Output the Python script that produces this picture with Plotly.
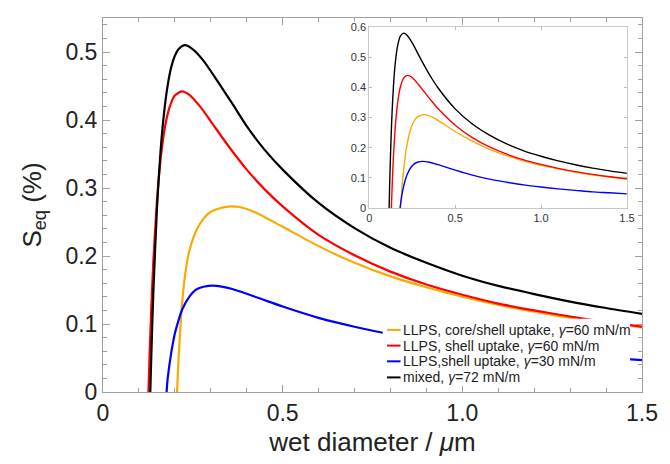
import plotly.graph_objects as go

# ---------------- main panel data (wet diameter in um, S_eq in %) ----------------
x_black = [0.1316, 0.135, 0.14, 0.15, 0.16, 0.17, 0.18, 0.19, 0.20, 0.21, 0.228, 0.25, 0.28, 0.32,
           0.36, 0.40, 0.45, 0.50, 0.60, 0.70, 0.80, 0.90, 1.0, 1.1, 1.2, 1.3, 1.4, 1.5]
y_black = [0.0, 0.064, 0.145, 0.268, 0.353, 0.411, 0.451, 0.478, 0.4945, 0.504, 0.510, 0.504, 0.487, 0.456,
           0.424, 0.391, 0.356, 0.327, 0.278, 0.241, 0.212, 0.190, 0.171, 0.156, 0.144, 0.133, 0.1235, 0.115]

x_red = [0.1264, 0.13, 0.135, 0.14, 0.15, 0.16, 0.17, 0.18, 0.19, 0.20, 0.219, 0.24, 0.27, 0.30,
         0.35, 0.40, 0.45, 0.50, 0.60, 0.70, 0.80, 0.90, 1.0, 1.1, 1.2, 1.3, 1.4, 1.5]
y_red = [0.0, 0.060, 0.132, 0.191, 0.280, 0.341, 0.382, 0.409, 0.426, 0.436, 0.442, 0.437, 0.420, 0.398,
         0.361, 0.327, 0.298, 0.273, 0.231, 0.201, 0.177, 0.158, 0.143, 0.130, 0.120, 0.111, 0.103, 0.096]

x_orange = [0.206, 0.21, 0.22, 0.23, 0.24, 0.26, 0.28, 0.30, 0.33, 0.356, 0.38, 0.42, 0.50,
            0.60, 0.70, 0.80, 0.90, 1.0, 1.1, 1.2, 1.3, 1.4, 1.5]
y_orange = [0.0, 0.045, 0.130, 0.178, 0.207, 0.238, 0.255, 0.265, 0.271, 0.273, 0.272, 0.265, 0.243,
            0.2145, 0.190, 0.170, 0.154, 0.140, 0.128, 0.118, 0.109, 0.102, 0.095]

x_blue = [0.177, 0.18, 0.19, 0.20, 0.21, 0.22, 0.24, 0.26, 0.28, 0.306, 0.33, 0.36, 0.40, 0.45,
          0.50, 0.60, 0.70, 0.80, 0.90, 1.0, 1.1, 1.2, 1.3, 1.4, 1.5]
y_blue = [0.0, 0.020, 0.058, 0.086, 0.105, 0.121, 0.140, 0.151, 0.1548, 0.1565, 0.155, 0.1514, 0.1445, 0.135,
          0.1257, 0.109, 0.096, 0.085, 0.077, 0.070, 0.0636, 0.0585, 0.054, 0.0505, 0.047]

# ---------------- inset data ----------------
xi_black = [0.1155, 0.12, 0.13, 0.14, 0.15, 0.16, 0.17, 0.18, 0.20, 0.22, 0.25, 0.30, 0.35, 0.40,
            0.50, 0.60, 0.70, 0.80, 0.90, 1.0, 1.1, 1.2, 1.3, 1.4, 1.5]
yi_black = [0.0, 0.107, 0.2825, 0.397, 0.473, 0.521, 0.551, 0.569, 0.580, 0.573, 0.5475, 0.494, 0.443, 0.399,
            0.329, 0.279, 0.242, 0.213, 0.190, 0.172, 0.1565, 0.1437, 0.1328, 0.1235, 0.1153]

xi_red = [0.1288, 0.13, 0.135, 0.14, 0.15, 0.16, 0.17, 0.18, 0.20, 0.223, 0.25, 0.30, 0.35, 0.40,
          0.50, 0.60, 0.70, 0.80, 0.90, 1.0, 1.1, 1.2, 1.3, 1.4, 1.5]
yi_red = [0.0, 0.022, 0.0985, 0.162, 0.258, 0.324, 0.369, 0.399, 0.431, 0.440, 0.433, 0.400, 0.364, 0.330,
          0.275, 0.234, 0.203, 0.179, 0.160, 0.145, 0.132, 0.121, 0.112, 0.104, 0.0974]

xi_orange = [0.182, 0.19, 0.20, 0.21, 0.22, 0.24, 0.26, 0.28, 0.315, 0.35, 0.40, 0.50, 0.60,
             0.70, 0.80, 0.90, 1.0, 1.1, 1.2, 1.3, 1.4, 1.5]
yi_orange = [0.0, 0.065, 0.127, 0.174, 0.211, 0.260, 0.288, 0.3025, 0.310, 0.3056, 0.291, 0.254, 0.222,
             0.195, 0.174, 0.156, 0.142, 0.130, 0.119, 0.1105, 0.103, 0.0963]

xi_blue = [0.179, 0.19, 0.20, 0.21, 0.22, 0.24, 0.26, 0.28, 0.31, 0.35, 0.40, 0.50, 0.60, 0.70,
           0.80, 0.90, 1.0, 1.1, 1.2, 1.3, 1.4, 1.5]
yi_blue = [0.0, 0.043, 0.072, 0.094, 0.111, 0.133, 0.146, 0.152, 0.155, 0.152, 0.144, 0.126, 0.1095, 0.096,
           0.086, 0.077, 0.070, 0.064, 0.059, 0.054, 0.051, 0.0474]

# ---------------- labels ----------------
series_names = ["LLPS, core/shell uptake, <i>γ</i>=60 mN/m",
                "LLPS, shell uptake, <i>γ</i>=60 mN/m",
                "LLPS,shell uptake, <i>γ</i>=30 mN/m",
                "mixed, <i>γ</i>=72 mN/m"]
series_colors = ["#f9aa00", "#ff0000", "#0000ff", "#000000"]

main_xtick_vals = [0, 0.5, 1.0, 1.5]
main_xtick_text = ["0", "0.5", "1.0", "1.5"]
main_ytick_vals = [0, 0.1, 0.2, 0.3, 0.4, 0.5]
main_ytick_text = ["0", "0.1", "0.2", "0.3", "0.4", "0.5"]
inset_ytick_vals = [0, 0.1, 0.2, 0.3, 0.4, 0.5, 0.6]
inset_ytick_text = ["0", "0.1", "0.2", "0.3", "0.4", "0.5", "0.6"]

x_title = "wet diameter / <i>μ</i>m"
y_title = "S<sub>eq</sub> (%)"

FONT = "Liberation Sans, Arial, sans-serif"

fig = go.Figure()

main_sets = [(x_orange, y_orange), (x_red, y_red), (x_blue, y_blue), (x_black, y_black)]
for (xs, ys), name, col in zip(main_sets, series_names, series_colors):
    fig.add_trace(go.Scatter(x=xs, y=ys, mode="lines", name=name, showlegend=False,
                             line=dict(color=col, width=2.2, shape="spline", smoothing=0.7),
                             xaxis="x", yaxis="y"))

inset_sets = [(xi_orange, yi_orange), (xi_red, yi_red), (xi_blue, yi_blue), (xi_black, yi_black)]
for (xs, ys), name, col in zip(inset_sets, series_names, series_colors):
    fig.add_trace(go.Scatter(x=xs, y=ys, mode="lines", name=name, showlegend=False,
                             line=dict(color=col, width=1.4, shape="spline", smoothing=0.7),
                             xaxis="x2", yaxis="y2"))

frame_col = "#a0a0a0"
fig.update_layout(
    width=670, height=464,
    margin=dict(l=103, r=18, t=13, b=70),
    paper_bgcolor="white", plot_bgcolor="white",
    font=dict(family=FONT, color="#222222"),
    showlegend=False,
    xaxis=dict(domain=[0, 1], range=[0, 1.5], anchor="y",
               tickvals=main_xtick_vals, ticktext=main_xtick_text,
               ticks="inside", ticklen=7, tickcolor=frame_col, tickwidth=1,
               minor=dict(dtick=0.1, ticks="inside", ticklen=4, tickcolor=frame_col, showgrid=False),
               showline=True, linecolor=frame_col, linewidth=1, mirror="ticks",
               showgrid=False, zeroline=False,
               tickfont=dict(size=23, color="#222222"),
               title=dict(text=x_title, font=dict(size=26, color="#222222"), standoff=8)),
    yaxis=dict(domain=[0, 1], range=[0, 0.55], anchor="x",
               tickvals=main_ytick_vals, ticktext=main_ytick_text,
               ticks="inside", ticklen=7, tickcolor=frame_col, tickwidth=1,
               minor=dict(dtick=0.02, ticks="inside", ticklen=4, tickcolor=frame_col, showgrid=False),
               showline=True, linecolor=frame_col, linewidth=1, mirror="ticks",
               showgrid=False, zeroline=False,
               tickfont=dict(size=23, color="#222222"),
               title=dict(text=y_title, font=dict(size=26, color="#222222"), standoff=16)),
    xaxis2=dict(domain=[0.494, 0.972], range=[0, 1.5], anchor="y2",
                tickvals=main_xtick_vals, ticktext=main_xtick_text,
                ticks="inside", ticklen=3, tickcolor="#bbbbbb",
                showline=True, linecolor="#c8c8c8", linewidth=1, mirror="ticks",
                showgrid=False, zeroline=False,
                tickfont=dict(size=11, color="#333333")),
    yaxis2=dict(domain=[0.4916, 0.9756], range=[0, 0.6], anchor="x2",
                tickvals=inset_ytick_vals, ticktext=inset_ytick_text,
                ticks="inside", ticklen=3, tickcolor="#bbbbbb",
                showline=True, linecolor="#c8c8c8", linewidth=1, mirror="ticks",
                showgrid=False, zeroline=False,
                tickfont=dict(size=11, color="#333333")),
)

# white legend backdrop (hides curves beneath the legend, as in the original)
fig.add_shape(type="rect", xref="paper", yref="paper", x0=0.519, x1=0.978, y0=0.016, y1=0.196,
              fillcolor="white", line=dict(width=0), layer="above")

legend_y = [0.166, 0.124, 0.082, 0.039]
key_x0, key_x1, text_x = 0.527, 0.552, 0.553
for name, col, yy in zip(series_names, series_colors, legend_y):
    fig.add_shape(type="line", xref="paper", yref="paper", x0=key_x0, x1=key_x1, y0=yy, y1=yy,
                  line=dict(color=col, width=2), layer="above")
    fig.add_annotation(xref="paper", yref="paper", x=text_x, y=yy, xanchor="left", yanchor="middle",
                       showarrow=False, align="left", text=name,
                       font=dict(size=14, color="#222222", family=FONT))

fig.write_html("out.html")
